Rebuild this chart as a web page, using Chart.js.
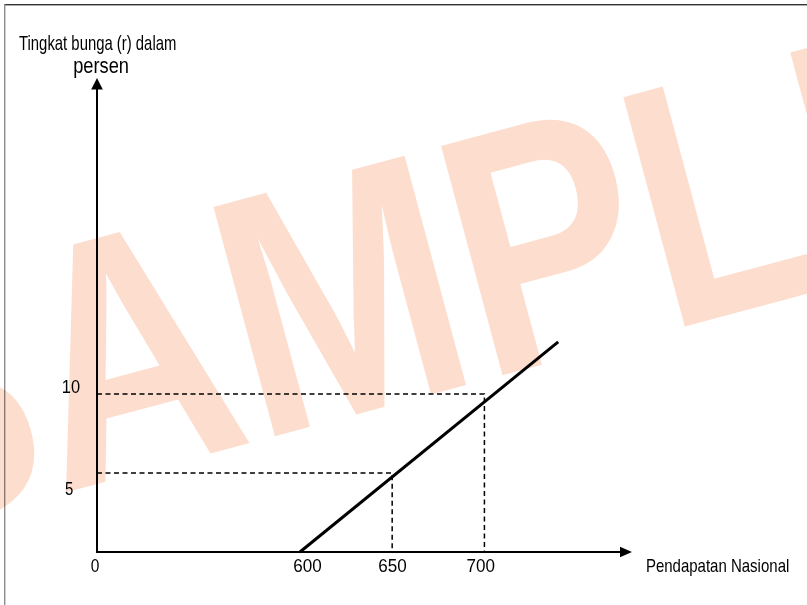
<!DOCTYPE html>
<html>
<head>
<meta charset="utf-8">
<script src="https://cdn.jsdelivr.net/npm/chart.js@4.4.1/dist/chart.umd.min.js"></script>
<style>
  html, body { margin: 0; padding: 0; background: #fff; }
  #wrap { width: 807px; height: 605px; }
</style>
</head>
<body>
<div id="wrap"><canvas id="lmChart"></canvas></div>
<script>
// LM curve: interest rate vs national income
var incomeAxis = [490, 780];      // first value is shown as "0" (broken axis)
var rateAxis = [0, 30];
var incomeTicks = [600, 650, 700];
var rateTicks = [5, 10];
var lmIncome = [600, 740];
var lmRate = [0, 13.3];
var guideIncome = [650, 700];
var guideRate = [5, 10];

var rateTitle = ['Tingkat bunga (r) dalam', 'persen'];
var incomeTitle = 'Pendapatan Nasional';
var watermark = 'SAMPLE';

var FONT = '"Liberation Sans", Arial, sans-serif';

// draw text so its ink box has the given left edge and width
function inkText(ctx, txt, left, baseline, size, width) {
    ctx.save();
    ctx.font = size + 'px ' + FONT;
    var m = ctx.measureText(txt);
    var ink = m.actualBoundingBoxLeft + m.actualBoundingBoxRight;
    var sx = width / ink;
    ctx.translate(left + m.actualBoundingBoxLeft * sx, baseline);
    ctx.scale(sx, 1);
    ctx.textAlign = 'left';
    ctx.textBaseline = 'alphabetic';
    ctx.fillStyle = '#000';
    ctx.fillText(txt, 0, 0);
    ctx.restore();
}

var lmDatasets = [{
    data: lmIncome.map(function (v, i) { return { x: v, y: lmRate[i] }; }),
    showLine: true,
    borderColor: '#000',
    borderWidth: 3,
    borderCapStyle: 'butt',
    pointRadius: 0,
    clip: false
}];
guideIncome.forEach(function (v, i) {
    lmDatasets.push({
        data: [
            { x: incomeAxis[0], y: guideRate[i] },
            { x: v, y: guideRate[i] },
            { x: v, y: rateAxis[0] }
        ],
        showLine: true,
        borderColor: '#000',
        borderWidth: 1.5,
        borderDash: [5, 3.5],
        pointRadius: 0,
        clip: false
    });
});

var diagramPlugin = {
    id: 'diagram',
    beforeDraw: function (chart) {
        var ctx = chart.ctx;
        ctx.save();
        ctx.fillStyle = '#fff';
        ctx.fillRect(0, 0, chart.width, chart.height);
        // picture frame
        ctx.fillStyle = '#333';
        ctx.fillRect(4, 4, chart.width - 4, 1.4);
        ctx.fillStyle = '#8c8c8c';
        ctx.fillRect(4, 4, 1.4, chart.height - 4);
        ctx.restore();
    },
    afterDatasetsDraw: function (chart) {
        var ctx = chart.ctx;
        var xs = chart.scales.x, ys = chart.scales.y;
        var x0 = xs.getPixelForValue(incomeAxis[0]);
        var xEnd = xs.getPixelForValue(incomeAxis[1]);
        var y0 = ys.getPixelForValue(rateAxis[0]);
        var yEnd = ys.getPixelForValue(rateAxis[1]);

        ctx.save();
        ctx.strokeStyle = '#000';
        ctx.fillStyle = '#000';
        ctx.lineWidth = 2;
        ctx.beginPath();
        ctx.moveTo(x0, y0 + 1);
        ctx.lineTo(x0, yEnd + 10);
        ctx.moveTo(x0 - 1, y0);
        ctx.lineTo(xEnd - 10, y0);
        ctx.stroke();
        // arrow heads
        ctx.beginPath();
        ctx.moveTo(x0, yEnd);
        ctx.lineTo(x0 - 5.8, yEnd + 11.5);
        ctx.lineTo(x0 + 5.8, yEnd + 11.5);
        ctx.closePath();
        ctx.fill();
        ctx.beginPath();
        ctx.moveTo(xEnd, y0);
        ctx.lineTo(xEnd - 12, y0 - 5.3);
        ctx.lineTo(xEnd - 12, y0 + 5.3);
        ctx.closePath();
        ctx.fill();
        ctx.restore();

        // tick labels
        var xNudge = { 600: 7.5, 650: 0.3, 700: -3.6 };
        inkText(ctx, '0', x0 - 2 - 4.3, 572.3, 18, 8.6);
        incomeTicks.forEach(function (v) {
            var c = xs.getPixelForValue(v) + (xNudge[v] || 0);
            inkText(ctx, String(v), c - 14.2, 572.3, 18, 28.4);
        });
        var yNudge = { 5: 22.3, 10: -0.6 };
        var yRight = { 5: 73.3, 10: 80 };
        var yWidth = { 5: 8.3, 10: 17.3 };
        rateTicks.forEach(function (v) {
            var b = ys.getPixelForValue(v) + yNudge[v];
            inkText(ctx, String(v), yRight[v] - yWidth[v], b, 18, yWidth[v]);
        });

        // axis titles
        inkText(ctx, rateTitle[0], 19, 49.5, 21, 157);
        inkText(ctx, rateTitle[1], 74, 72.7, 22, 54);
        inkText(ctx, incomeTitle, 646.7, 572.3, 18.5, 141.7);
    },
    afterDraw: function (chart) {
        var ctx = chart.ctx;
        ctx.save();
        ctx.globalCompositeOperation = 'multiply';
        ctx.fillStyle = 'rgb(253,221,205)';
        ctx.font = 'bold 345px ' + FONT;
        ctx.translate(59.3, 494);
        ctx.rotate(-15 * Math.PI / 180);
        ctx.scale(0.82, 1);
        var sW = ctx.measureText(watermark.charAt(0)).width;
        ctx.textBaseline = 'alphabetic';
        ctx.fillText(watermark, -sW, 0);
        ctx.restore();
    }
};

var ctx = document.getElementById('lmChart').getContext('2d');
var lmChart = new Chart(ctx, {
    type: 'scatter',
    data: { datasets: lmDatasets },
    options: {
        responsive: true,
        maintainAspectRatio: false,
        devicePixelRatio: 1,
        animation: false,
        layout: { padding: { left: 97, right: 175, top: 78, bottom: 53 } },
        plugins: {
            legend: { display: false },
            tooltip: { enabled: false }
        },
        scales: {
            x: { type: 'linear', min: incomeAxis[0], max: incomeAxis[1], display: false },
            y: { type: 'linear', min: rateAxis[0], max: rateAxis[1], display: false }
        }
    },
    plugins: [diagramPlugin]
});
</script>
</body>
</html>
